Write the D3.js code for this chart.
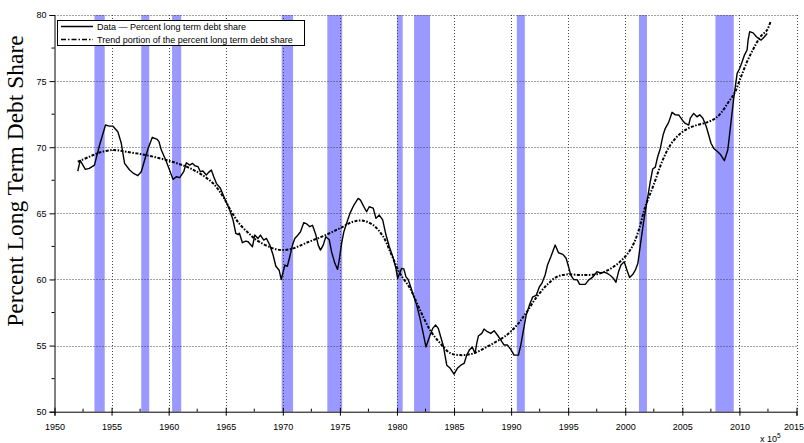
<!DOCTYPE html>
<html>
<head>
<meta charset="utf-8">
<script src="https://cdn.jsdelivr.net/npm/d3@7"></script>
<style>
  html, body { margin: 0; padding: 0; background: #fff; }
  svg { display: block; }
</style>
</head>
<body>
<svg id="chart" width="804" height="443"></svg>
<script>
// Percent long term debt share, quarterly observations
const dataYears = [
  1952.04,1952.25,1952.7,1953.05,1953.5,1953.95,1954.47,1954.8,1955.1,1955.55,1955.85,1956.14,1956.58,1956.93,
  1957.3,1957.6,1957.9,1958.2,1958.57,1959.0,1959.15,1959.36,1959.74,1960.03,1960.38,1960.67,1960.97,1961.32,
  1961.55,1961.85,1962.08,1962.3,1962.57,1962.78,1963.0,1963.3,1963.5,1963.74,1963.95,1964.18,1964.53,1964.91,
  1965.35,1965.64,1965.88,1966.1,1966.2,1966.46,1966.75,1966.96,1967.34,1967.54,1967.83,1968.04,1968.33,1968.57,
  1968.86,1969.15,1969.39,1969.68,1969.86,1970.03,1970.18,1970.4,1970.61,1970.85,1971.05,1971.25,1971.55,1971.84,
  1972.1,1972.37,1972.6,1972.9,1973.1,1973.3,1973.54,1973.77,1974.07,1974.27,1974.56,1974.8,1974.94,1975.15,
  1975.35,1975.59,1975.88,1976.23,1976.6,1976.8,1977.1,1977.34,1977.57,1977.92,1978.16,1978.45,1978.75,1979.04,
  1979.33,1979.68,1979.91,1980.06,1980.2,1980.41,1980.6,1980.79,1980.98,1981.2,1981.43,1981.73,1982.02,1982.3,
  1982.54,1982.75,1982.95,1983.13,1983.39,1983.62,1983.83,1984.06,1984.36,1984.65,1985.0,1985.29,1985.59,1985.88,
  1986.11,1986.34,1986.6,1986.84,1986.99,1987.13,1987.43,1987.63,1987.92,1988.22,1988.51,1988.8,1989.1,1989.39,
  1989.68,1989.97,1990.26,1990.64,1990.85,1991.08,1991.32,1991.6,1991.9,1992.2,1992.48,1992.69,1992.98,1993.19,
  1993.48,1993.86,1994.15,1994.53,1994.82,1995.03,1995.23,1995.47,1995.8,1996.0,1996.5,1996.78,1997.17,1997.52,
  1997.85,1998.15,1998.45,1998.7,1998.95,1999.18,1999.41,1999.62,1999.91,2000.15,2000.38,2000.67,2000.88,2001.1,
  2001.32,2001.61,2001.9,2002.19,2002.4,2002.63,2002.84,2003.07,2003.31,2003.51,2003.8,2004.1,2004.39,2004.68,
  2005.06,2005.26,2005.56,2005.7,2005.99,2006.28,2006.52,2006.8,2007.1,2007.31,2007.51,2007.75,2008.1,2008.32,
  2008.68,2008.98,2009.2,2009.5,2009.8,2010.03,2010.24,2010.44,2010.67,2010.76,2010.9,2011.2,2011.49,2011.7,
  2011.9,2012.19,2012.43
];
const dataValues = [
  68.2,69.0,68.33,68.4,68.65,70.17,71.68,71.6,71.6,71.17,70.3,68.78,68.28,68.02,
  67.85,68.15,69.03,69.9,70.75,70.6,70.42,69.79,69.03,68.4,67.57,67.77,67.7,68.15,
  68.83,68.65,68.78,68.6,68.53,68.15,68.2,67.9,68.1,68.27,67.77,67.27,66.9,66.13,
  65.25,64.5,63.49,63.4,63.5,62.78,62.9,62.85,62.47,63.36,63.1,63.36,62.98,63.1,
  62.6,61.85,61.0,60.7,60.0,60.58,61.09,61.0,61.72,62.6,63.1,63.28,63.61,64.3,
  64.2,63.99,64.1,63.36,62.6,62.22,62.6,63.23,63.0,62.1,61.22,60.76,61.47,62.73,
  63.61,64.25,65.0,65.63,66.13,66.0,65.5,65.12,65.5,65.4,64.62,64.87,64.5,63.36,
  62.47,61.6,60.84,60.08,60.4,60.84,60.8,60.2,60.0,59.45,58.82,58.06,57.06,55.92,
  54.9,55.42,55.92,56.3,56.55,56.3,55.67,55.0,53.52,53.3,52.84,53.28,53.52,53.65,
  54.28,54.66,54.9,54.41,55.17,55.72,55.92,56.25,56.05,55.92,56.12,55.8,55.42,55.04,
  55.04,54.71,54.28,54.28,55.04,56.17,57.3,58.06,58.69,58.8,59.45,59.7,60.34,61.1,
  61.72,62.6,62.02,61.9,61.6,60.96,60.33,60.0,59.97,59.63,59.63,59.95,60.2,60.58,
  60.5,60.55,60.45,60.3,60.1,59.78,60.58,61.09,61.34,60.7,60.15,60.4,60.7,61.2,
  62.6,64.37,65.88,67.39,68.35,68.5,69.28,69.91,70.92,71.43,71.88,72.64,72.45,72.44,
  71.98,71.8,71.68,72.2,72.56,72.3,72.45,72.2,71.55,70.92,70.3,69.91,69.66,69.47,
  68.98,69.79,71.43,73.7,75.59,75.97,76.47,76.97,77.35,78.1,78.74,78.65,78.36,78.2,
  78.1,78.36,78.6
];

// Trend component of the series
const trendYears = [
  1952.04,1953.05,1953.95,1955.1,1956.28,1958.0,1959.8,1961.55,1962.72,1963.89,1964.77,1965.5,1966.23,1967.1,
  1967.69,1969.15,1970.03,1970.9,1972.08,1973.54,1975.0,1976.17,1977.04,1977.92,1978.8,1979.53,1980.26,1981.14,
  1982.02,1982.9,1983.77,1984.65,1985.53,1986.7,1988.16,1989.62,1990.64,1991.38,1992.25,1993.13,1994.0,1994.88,
  1996.34,1997.8,1998.97,1999.85,2000.59,2001.17,2001.75,2002.48,2003.22,2003.95,2004.68,2005.41,2006.29,2007.16,
  2007.89,2008.48,2009.06,2009.56,2010.09,2010.67,2011.25,2011.84,2012.43,2012.72
];
const trendValues = [
  68.9,69.28,69.6,69.79,69.66,69.41,69.03,68.53,68.02,67.27,66.26,65.12,64.17,63.43,
  62.98,62.35,62.22,62.35,62.78,63.28,63.87,64.37,64.44,64.11,63.23,61.85,60.46,59.33,
  57.69,56.17,55.19,54.44,54.28,54.41,55.04,55.8,56.68,57.56,58.69,59.58,60.2,60.38,
  60.33,60.46,60.96,61.6,62.45,63.7,65.5,67.14,68.9,70.17,70.92,71.38,71.68,71.88,
  72.18,72.69,73.44,74.08,75.21,76.47,77.48,78.36,78.87,79.5
];

// NBER recession periods
const recessionStarts = [1953.5, 1957.6, 1960.3, 1969.9, 1973.9, 1980.0, 1981.5, 1990.5, 2001.2, 2007.9];
const recessionEnds   = [1954.4, 1958.3, 1961.1, 1970.9, 1975.2, 1980.5, 1982.9, 1991.2, 2001.9, 2009.5];

const xTicks = [1950,1955,1960,1965,1970,1975,1980,1985,1990,1995,2000,2005,2010,2015];
const yTicks = [50,55,60,65,70,75,80];

const legendLabels = ["Data \u2014 Percent long term debt share",
                      "Trend portion of the percent long term debt share"];

const SANS = "'Liberation Sans', Arial, sans-serif";
const SERIF = "'Liberation Serif', 'Times New Roman', serif";

const svg = d3.select("#chart");
const x = d3.scaleLinear().domain([1950, 2015]).range([54.5, 796.5]);
const y = d3.scaleLinear().domain([50, 80]).range([411.7, 15]);

// recession shading
svg.append("g").selectAll("rect")
  .data(recessionStarts.map((s, i) => [s, recessionEnds[i]]))
  .join("rect")
  .attr("x", d => x(d[0]))
  .attr("width", d => x(d[1]) - x(d[0]))
  .attr("y", y(80))
  .attr("height", y(50) - y(80))
  .attr("fill", "#9999ff");

// dotted grid
const grid = svg.append("g").attr("stroke", "#444").attr("stroke-dasharray", "1,2").attr("stroke-width", 1);
grid.selectAll("line.v").data(xTicks.slice(1)).join("line")
  .attr("class", "v")
  .attr("x1", d => Math.round(x(d)) + 0.5).attr("x2", d => Math.round(x(d)) + 0.5)
  .attr("y1", y(80)).attr("y2", y(50));
grid.selectAll("line.h").data(yTicks.slice(1)).join("line")
  .attr("class", "h")
  .attr("y1", d => Math.round(y(d)) + 0.5).attr("y2", d => Math.round(y(d)) + 0.5)
  .attr("x1", x(1950)).attr("x2", x(2015));

// axes
const xAxis = d3.axisBottom(x).tickValues(xTicks).tickFormat(d3.format("d")).tickSize(4).tickPadding(8);
const yAxis = d3.axisLeft(y).tickValues(yTicks).tickFormat(d3.format("d")).tickSize(5).tickPadding(3);

const gx = svg.append("g").attr("transform", `translate(0,${y(50)})`).call(xAxis);
const gy = svg.append("g").attr("transform", `translate(${x(1950)},0)`).call(yAxis);
[gx, gy].forEach(g => {
  g.select(".domain").attr("stroke", "#000");
  g.selectAll(".tick line").attr("stroke", "#000");
  g.selectAll(".tick text").attr("font-size", 9).attr("fill", "#000").style("font-family", SANS);
});
gx.selectAll(".tick line").attr("y1", -4);
// last year label sits at the right edge of the canvas
gx.selectAll(".tick text").filter(d => d === 2015).attr("text-anchor", "end").attr("dx", 7);

// minor ticks
const xMinor = d3.range(1952.5, 2015, 5);
svg.append("g").selectAll("line").data(xMinor).join("line")
  .attr("x1", d => x(d)).attr("x2", d => x(d))
  .attr("y1", y(50)).attr("y2", y(50) - 3)
  .attr("stroke", "#000");
const yMinor = d3.range(52.5, 80, 5);
svg.append("g").selectAll("line").data(yMinor).join("line")
  .attr("x1", x(1950)).attr("x2", x(1950) - 3)
  .attr("y1", d => y(d)).attr("y2", d => y(d))
  .attr("stroke", "#000");

// exponent note below the axis
const note = svg.append("text").attr("x", 760).attr("y", 442).attr("font-size", 9)
  .attr("fill", "#000").style("font-family", SANS);
note.append("tspan").text("x 10");
note.append("tspan").attr("dy", -4).attr("font-size", 6.5).text("5");

// series
const dataLine = d3.line().x(d => x(d[0])).y(d => y(d[1]));
svg.append("path")
  .datum(dataYears.map((t, i) => [t, dataValues[i]]))
  .attr("d", dataLine)
  .attr("fill", "none").attr("stroke", "#000").attr("stroke-width", 1.4)
  .attr("stroke-linejoin", "round");

const trendLine = d3.line().x(d => x(d[0])).y(d => y(d[1])).curve(d3.curveCatmullRom);
svg.append("path")
  .datum(trendYears.map((t, i) => [t, trendValues[i]]))
  .attr("d", trendLine)
  .attr("fill", "none").attr("stroke", "#000").attr("stroke-width", 2)
  .attr("stroke-dasharray", "3,1.5,1.5,1.5");

// y title
svg.append("text")
  .attr("transform", `translate(23,${181}) rotate(-90)`)
  .attr("text-anchor", "middle")
  .style("font-family", SERIF)
  .attr("font-size", 23.5)
  .attr("fill", "#000")
  .text("Percent Long Term Debt Share");

// legend
const lg = svg.append("g");
lg.append("rect").attr("x", 57.5).attr("y", 20.5).attr("width", 247).attr("height", 25)
  .attr("fill", "#fff").attr("stroke", "#000").attr("stroke-width", 1);
const styles = [{w: 1.5, dash: null}, {w: 1.5, dash: "5,2,1.5,2"}];
legendLabels.forEach((lab, i) => {
  const ly = 26.5 + i * 13;
  lg.append("line").attr("x1", 61).attr("x2", 93).attr("y1", ly).attr("y2", ly)
    .attr("stroke", "#000").attr("stroke-width", styles[i].w)
    .attr("stroke-dasharray", styles[i].dash);
  lg.append("text").attr("x", 97).attr("y", ly + 3.2).attr("font-size", 9)
    .attr("fill", "#000").style("font-family", SANS).text(lab);
});
</script>
</body>
</html>
